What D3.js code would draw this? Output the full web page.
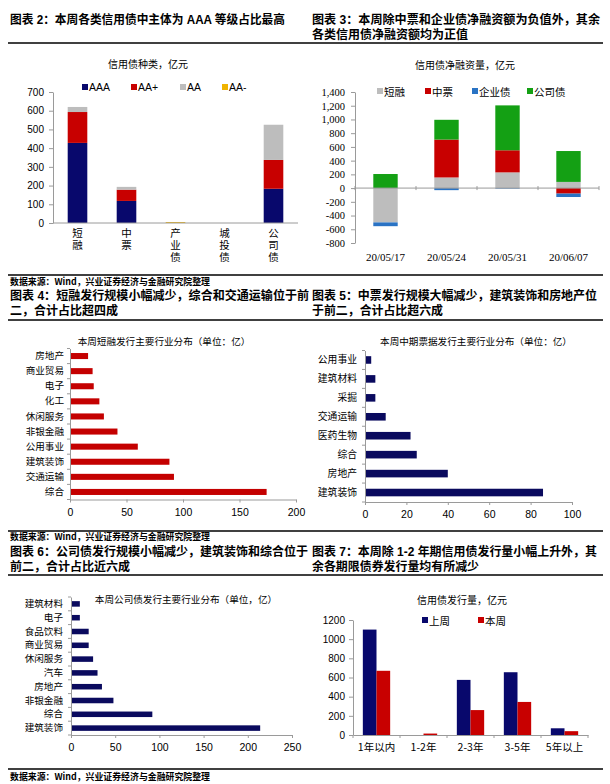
<!DOCTYPE html>
<html lang="zh">
<head>
<meta charset="UTF-8">
<script src="https://d3js.org/d3.v7.min.js"></script>
<style>
    body { margin: 0; background: #fff; }
    text { font-family: "Noto Sans CJK SC", sans-serif; fill: #000; }
</style>
</head>
<body>
<script>
    // ---------- data ----------
    var titleRow1 = ["图表 2：本周各类信用债中主体为 AAA 等级占比最高", "图表 3：本周除中票和企业债净融资额为负值外，其余", "各类信用债净融资额均为正值"];
    var titleRow2 = ["图表 4：短融发行规模小幅减少，综合和交通运输位于前", "二，合计占比超四成", "图表 5：中票发行规模大幅减少，建筑装饰和房地产位", "于前二，合计占比超六成"];
    var titleRow3 = ["图表 6：公司债发行规模小幅减少，建筑装饰和综合位于", "前二，合计占比近六成", "图表 7：本周除 1-2 年期信用债发行量小幅上升外，其", "余各期限债券发行量均有所减少"];
    var sourceText = "数据来源：Wind，兴业证券经济与金融研究院整理";

    // chart 2: rating mix
    var ratingCats = ["短融", "中票", "产业债", "城投债", "公司债"];
    var ratingKeys = ["AAA", "AA+", "AA", "AA-"];
    var ratingAAA = [428, 118, 0, 0, 183];
    var ratingAAplus = [165, 60, 0, 0, 154];
    var ratingAA = [27, 15, 0, 0, 188];
    var ratingAAminus = [0, 0, 5, 0, 0];
    var ratingTicks = [0, 100, 200, 300, 400, 500, 600, 700];

    // chart 3: net financing
    var netDates = ["20/05/17", "20/05/24", "20/05/31", "20/06/07"];
    var netKeys = ["短融", "中票", "企业债", "公司债"];
    var netCP = [-500, 155, 229, 90];
    var netMTN = [0, 552, 322, -80];
    var netEnt = [-55, -30, -8, -50];
    var netCorp = [205, 288, 654, 450];
    var netTicks = [-800, -600, -400, -200, 0, 200, 400, 600, 800, 1000, 1200, 1400];

    // chart 4: short-term financing by industry
    var cpInd = ["房地产", "商业贸易", "电子", "化工", "休闲服务", "非银金融", "公用事业", "建筑装饰", "交通运输", "综合"];
    var cpVal = [16, 20, 21, 26, 30, 42, 60, 88, 92, 174];
    var cpTicks = [0, 50, 100, 150, 200];

    // chart 5: MTN by industry
    var mtnInd = ["公用事业", "建筑材料", "采掘", "交通运输", "医药生物", "综合", "房地产", "建筑装饰"];
    var mtnVal = [3, 5, 5, 10, 22, 25, 40, 86];
    var mtnTicks = [0, 20, 40, 60, 80, 100];

    // chart 6: corporate bonds by industry
    var corpInd = ["建筑材料", "电子", "食品饮料", "商业贸易", "休闲服务", "汽车", "房地产", "非银金融", "综合", "建筑装饰"];
    var corpVal = [10, 10, 20, 20, 25, 30, 35, 48, 92, 214];
    var corpTicks = [0, 50, 100, 150, 200, 250];

    // chart 7: issuance by term
    var termCats = ["1年以内", "1-2年", "2-3年", "3-5年", "5年以上"];
    var termKeys = ["上周", "本周"];
    var termLast = [1100, 0, 575, 655, 70];
    var termThis = [670, 15, 260, 345, 40];
    var termTicks = [0, 200, 400, 600, 800, 1000, 1200];

    // ---------- setup ----------
    var NAVY = "#08086c", RED = "#c80000", GRAY = "#bdbdbd", GOLD = "#f0b400",
        BLUE = "#2a73c4", GREEN = "#14a014", AXIS = "#9a9a9a";
    var NUM = "'Liberation Sans', Arial, sans-serif";
    var SERIF = "'Liberation Serif', 'Times New Roman', serif";
    var TITLE = "'Liberation Sans', 'Noto Sans CJK SC', sans-serif";

    var svg = d3.select("body").append("svg")
        .attr("width", 610)
        .attr("height", 784)
    svg.append("rect").attr("width", 610).attr("height", 784).attr("fill", "#fff")

    function text(txt, x, y, size, opts) {
        opts = opts || {}
        var t = svg.append("text")
            .attr("x", x).attr("y", y)
            .attr("font-size", size)
            .attr("dominant-baseline", "central")
            .attr("text-anchor", opts.anchor || "start")
            .text(txt)
        if (opts.bold) t.attr("font-weight", "bold")
        if (opts.family) t.style("font-family", opts.family)
        if (opts.len) t.attr("textLength", opts.len).attr("lengthAdjust", "spacingAndGlyphs")
        return t
    }

    function title(txt, x, y, len) {
        return text(txt, x, y, 12, { bold: true, len: len, family: TITLE })
    }

    function hline(y) {
        svg.append("line").attr("x1", 8).attr("x2", 603).attr("y1", y).attr("y2", y)
            .attr("stroke", "#000").attr("stroke-width", 1.5)
    }

    function styleAxis(g, family, size) {
        g.attr("font-family", null).attr("font-size", size)
        g.select(".domain").attr("stroke", AXIS)
        g.selectAll(".tick line").attr("stroke", AXIS)
        g.selectAll(".tick text").style("font-family", family).attr("fill", "#000")
    }

    function legendItem(x, y, color, label, size, family) {
        svg.append("rect").attr("x", x).attr("y", y - 3).attr("width", 6).attr("height", 6).attr("fill", color)
        var t = text(label, x + 7, y, size || 10)
        if (family) t.style("font-family", family)
    }

    // ---------- titles, rules and sources ----------
    title(titleRow1[0], 10, 20, 275)
    title(titleRow1[1], 312, 20, 288)
    title(titleRow1[2], 312, 35, 156)
    hline(43)

    hline(275)
    text(sourceText, 10, 281, 9, { bold: true, len: 200 })
    title(titleRow2[0], 10, 296, 299)
    title(titleRow2[1], 10, 311, 108)
    title(titleRow2[2], 312, 296, 285)
    title(titleRow2[3], 312, 311, 131)
    hline(320)

    hline(531)
    text(sourceText, 10, 536, 9, { bold: true, len: 200 })
    title(titleRow3[0], 10, 552, 298)
    title(titleRow3[1], 10, 567, 120)
    title(titleRow3[2], 312, 552, 285)
    title(titleRow3[3], 312, 567, 167)
    hline(575)

    hline(769)
    text(sourceText, 10, 776, 9, { bold: true, len: 200 })

    // ---------- chart 2: stacked ratings ----------
    var ratingColor = d3.scaleOrdinal().domain(ratingKeys).range([NAVY, RED, GRAY, GOLD])
    var ratingTable = ratingCats.map(function (c, i) {
        return { cat: c, "AAA": ratingAAA[i], "AA+": ratingAAplus[i], "AA": ratingAA[i], "AA-": ratingAAminus[i] }
    })
    var ratingStack = d3.stack().keys(ratingKeys)(ratingTable)

    var x2 = d3.scaleBand().domain(ratingCats).range([53, 298]).paddingInner(0.6).paddingOuter(0.3)
    var y2 = d3.scaleLinear().domain([0, 700]).range([223, 92])

    text("信用债种类，亿元", 148, 63, 10, { anchor: "middle" })
    var ratingLegendX = [82, 131, 180, 222]
    ratingKeys.forEach(function (k, i) { legendItem(ratingLegendX[i], 87, ratingColor(k), k, 10.5, NUM) })

    svg.append("g").selectAll("g").data(ratingStack).join("g")
        .attr("fill", function (d) { return ratingColor(d.key) })
        .selectAll("rect").data(function (d) { return d }).join("rect")
        .attr("x", function (d) { return x2(d.data.cat) })
        .attr("width", x2.bandwidth())
        .attr("y", function (d) { return y2(d[1]) })
        .attr("height", function (d) { return y2(d[0]) - y2(d[1]) })

    var ay2 = svg.append("g").attr("transform", "translate(53,0)")
        .call(d3.axisLeft(y2).tickValues(ratingTicks).tickSize(4).tickPadding(5).tickSizeOuter(0))
    styleAxis(ay2, NUM, 10)
    svg.append("line").attr("x1", 53).attr("x2", 298).attr("y1", y2(0)).attr("y2", y2(0)).attr("stroke", AXIS)

    // vertical category labels (one glyph per line, upright)
    svg.append("g").selectAll("text").data(ratingCats).join("text")
        .attr("x", function (d) { return x2(d) + x2.bandwidth() / 2 })
        .attr("y", 228)
        .attr("font-size", 10.5)
        .style("writing-mode", "vertical-rl")
        .style("letter-spacing", "1.5px")
        .text(function (d) { return d })

    // ---------- chart 3: net financing, diverging stack ----------
    var netColor = d3.scaleOrdinal().domain(netKeys).range([GRAY, RED, BLUE, GREEN])
    var netTable = netDates.map(function (d, i) {
        return { date: d, "短融": netCP[i], "中票": netMTN[i], "企业债": netEnt[i], "公司债": netCorp[i] }
    })
    var netStack = d3.stack().keys(netKeys).offset(d3.stackOffsetDiverging)(netTable)

    var x3 = d3.scaleBand().domain(netDates).range([355, 599]).paddingInner(0.6).paddingOuter(0.3)
    var y3 = d3.scaleLinear().domain([-800, 1400]).range([243, 92])

    text("信用债净融资量，亿元", 465, 64, 10, { anchor: "middle" })
    var netLegendX = [377, 425, 472, 527]
    netKeys.forEach(function (k, i) { legendItem(netLegendX[i], 91, netColor(k), k, 10.5) })

    svg.append("g").selectAll("g").data(netStack).join("g")
        .attr("fill", function (d) { return netColor(d.key) })
        .selectAll("rect").data(function (d) { return d }).join("rect")
        .attr("x", function (d) { return x3(d.data.date) })
        .attr("width", x3.bandwidth())
        .attr("y", function (d) { return y3(d[1]) })
        .attr("height", function (d) { return y3(d[0]) - y3(d[1]) })

    var ay3 = svg.append("g").attr("transform", "translate(355,0)")
        .call(d3.axisLeft(y3).tickValues(netTicks).tickSize(4).tickPadding(6).tickSizeOuter(0)
            .tickFormat(function (d) { return d3.format(",")(d).replace("−", "-") }))
    styleAxis(ay3, SERIF, 10.5)

    svg.append("line").attr("x1", 355).attr("x2", 599).attr("y1", y3(0)).attr("y2", y3(0)).attr("stroke", AXIS)
    d3.range(netDates.length + 1).forEach(function (i) {
        var xx = 355 + i * x3.step()
        svg.append("line").attr("x1", xx).attr("x2", xx).attr("y1", y3(0) - 2).attr("y2", y3(0) + 2).attr("stroke", AXIS)
    })
    netDates.forEach(function (d) {
        text(d, x3(d) + x3.bandwidth() / 2, 257, 11, { anchor: "middle", family: SERIF })
    })

    // ---------- horizontal bar charts ----------
    function hbar(cats, vals, ticks, o) {
        var x = d3.scaleLinear().domain([0, ticks[ticks.length - 1]]).range([o.x0, o.x1])
        var y = d3.scaleBand().domain(cats).range([o.y0, o.y1]).paddingInner(0.6).paddingOuter(0.3)

        svg.append("g").selectAll("rect").data(cats).join("rect")
            .attr("x", x(0))
            .attr("y", function (d) { return y(d) })
            .attr("width", function (d, i) { return x(vals[i]) - x(0) })
            .attr("height", y.bandwidth())
            .attr("fill", o.color)

        var ay = svg.append("g").attr("transform", "translate(" + o.x0 + ",0)")
            .call(d3.axisLeft(y).tickSize(0).tickPadding(o.pad))
        styleAxis(ay, "'Noto Sans CJK SC', sans-serif", o.labelSize)
        ay.selectAll(".tick text").attr("fill", "#222")
        d3.range(cats.length + 1).forEach(function (i) {
            var yy = o.y0 + i * y.step()
            svg.append("line").attr("x1", o.x0 - 3).attr("x2", o.x0).attr("y1", yy).attr("y2", yy).attr("stroke", AXIS)
        })

        var ax = svg.append("g").attr("transform", "translate(0," + o.y1 + ")")
            .call(d3.axisBottom(x).tickValues(ticks).tickSize(3).tickPadding(6).tickSizeOuter(0))
        styleAxis(ax, NUM, 10.5)
    }

    text("本周短融发行主要行业分布（单位：亿）", 164, 341, 9.6, { anchor: "middle" })
    hbar(cpInd, cpVal, cpTicks, { x0: 70, x1: 296, y0: 348.5, y1: 499.5, color: "#c40000", pad: 6, labelSize: 9.6 })

    text("本周中期票据发行主要行业分布（单位：亿）", 476, 341, 9.6, { anchor: "middle" })
    hbar(mtnInd, mtnVal, mtnTicks, { x0: 365, x1: 572, y0: 350.5, y1: 502, color: "#0a0a5e", pad: 8, labelSize: 9.8 })

    hbar(corpInd, corpVal, corpTicks, { x0: 71, x1: 292, y0: 597, y1: 735, color: "#0a0a5e", pad: 8, labelSize: 9.6 })
    text("本周公司债发行主要行业分布（单位，亿）", 186, 599, 9.6, { anchor: "middle" })

    // ---------- chart 7: grouped bars by term ----------
    var termColor = d3.scaleOrdinal().domain(termKeys).range([NAVY, RED])
    var termTable = termCats.map(function (c, i) { return { cat: c, "上周": termLast[i], "本周": termThis[i] } })

    var x7 = d3.scaleBand().domain(termCats).range([353, 588])
    var x7s = d3.scaleBand().domain(termKeys).range([0, x7.bandwidth()]).paddingOuter(0.72)
    var y7 = d3.scaleLinear().domain([0, 1200]).range([735, 620])

    text("信用债发行量，亿元", 462, 599, 10, { anchor: "middle" })
    legendItem(422, 620, NAVY, "上周", 10.5)
    legendItem(478, 620, RED, "本周", 10.5)

    svg.append("g").selectAll("g").data(termTable).join("g")
        .attr("transform", function (d) { return "translate(" + x7(d.cat) + ",0)" })
        .selectAll("rect").data(function (d) { return termKeys.map(function (k) { return { key: k, value: d[k] } }) })
        .join("rect")
        .attr("x", function (d) { return x7s(d.key) })
        .attr("width", x7s.bandwidth())
        .attr("y", function (d) { return y7(d.value) })
        .attr("height", function (d) { return y7(0) - y7(d.value) })
        .attr("fill", function (d) { return termColor(d.key) })

    var ay7 = svg.append("g").attr("transform", "translate(353,0)")
        .call(d3.axisLeft(y7).tickValues(termTicks).tickSize(4).tickPadding(4).tickSizeOuter(0)
            .tickFormat(d3.format("d")))
    styleAxis(ay7, NUM, 10)

    var ax7 = svg.append("g").attr("transform", "translate(0," + y7(0) + ")")
        .call(d3.axisBottom(x7).tickSize(0).tickPadding(9).tickSizeOuter(0))
    styleAxis(ax7, "'Noto Sans CJK SC', sans-serif", 10.5)
    d3.range(termCats.length + 1).forEach(function (i) {
        var xx = 353 + i * x7.step()
        svg.append("line").attr("x1", xx).attr("x2", xx).attr("y1", y7(0)).attr("y2", y7(0) + 3).attr("stroke", AXIS)
    })
</script>
</body>
</html>
